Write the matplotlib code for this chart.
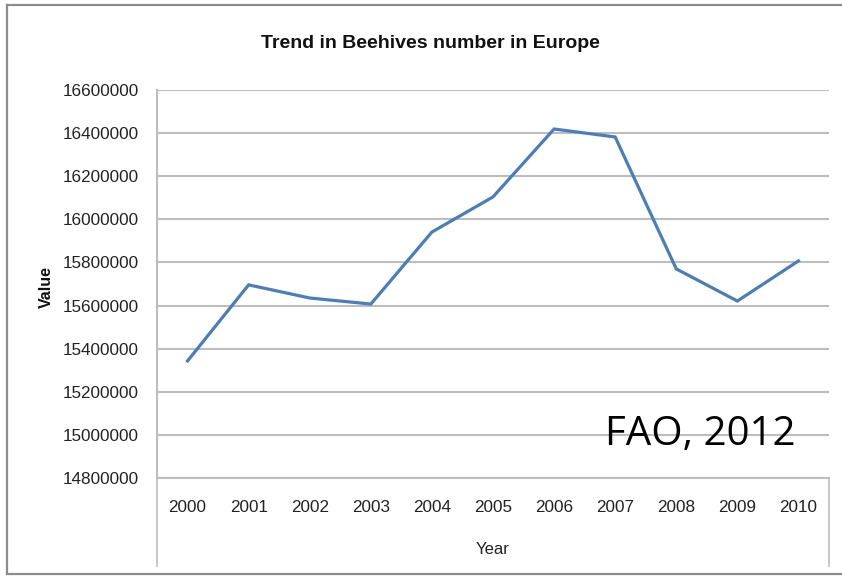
"""Line chart: trend in beehives number in Europe (FAO, 2012)."""

import matplotlib
matplotlib.use("Agg")
import matplotlib.pyplot as plt
from matplotlib.lines import Line2D

# Data
YEARS = ["2000", "2001", "2002", "2003", "2004", "2005",
         "2006", "2007", "2008", "2009", "2010"]
BEEHIVES = [15343000, 15696000, 15635000, 15607000, 15941000, 16104000,
            16419000, 16382000, 15770000, 15621000, 15807000]
Y_TICKS = [14800000, 15000000, 15200000, 15400000, 15600000, 15800000,
           16000000, 16200000, 16400000, 16600000]

LINE_COLOR = "#4a7ebb"
GRID_COLOR = "#bdbdbd"
FONT = ["Liberation Sans", "DejaVu Sans"]

W, H = 842, 576


def fx(px):
    return px / W


def fy(py):
    return 1 - py / H


fig = plt.figure(figsize=(W / 100, H / 100), dpi=100)

# Plot area (pixel coords)
left, right, top, bottom = 157, 829, 90, 478
ax = fig.add_axes([fx(left), fy(bottom), fx(right) - fx(left), fy(top) - fy(bottom)])

x = list(range(len(YEARS)))
ax.plot(x, BEEHIVES, color=LINE_COLOR, linewidth=2.3, solid_joinstyle="miter")

ax.set_xlim(-0.5, len(YEARS) - 0.5)
ax.set_ylim(Y_TICKS[0], Y_TICKS[-1])
ax.set_yticks(Y_TICKS)
ax.set_yticklabels([str(v) for v in Y_TICKS], family=FONT, fontsize=12.3, color="#222222")
ax.set_xticks(x)
ax.set_xticklabels(YEARS, family=FONT, fontsize=12.3, color="#222222")
ax.tick_params(axis="y", length=0, pad=13)
ax.tick_params(axis="x", length=0, pad=16)

ax.grid(True, axis="y", color=GRID_COLOR, linewidth=1.5)
ax.set_axisbelow(True)
for side in ["top", "right"]:
    ax.spines[side].set_visible(False)
for side in ["left", "bottom"]:
    ax.spines[side].set_color(GRID_COLOR)
    ax.spines[side].set_linewidth(1.5)

# Title and axis labels
fig.text(fx(430), fy(44), "Trend in Beehives number in Europe", family=FONT,
         fontsize=14, fontweight="bold", ha="center", va="center", color="#111111")
fig.text(fx(46), fy(287), "Value", family=FONT, fontsize=11.5, fontweight="bold",
         rotation=90, ha="center", va="center", color="#111111")
fig.text(fx(493), fy(550), "Year", family=FONT, fontsize=12,
         ha="center", va="center", color="#222222")

# Source annotation
fig.text(fx(700), fy(435), "FAO, 2012", family=["Open Sans", "DejaVu Sans"],
         fontsize=29, ha="center", va="center", color="black")

# Category axis box and outer chart frame
for xs, ys in [
    ([left, left], [bottom, 566]),
    ([right, right], [bottom, 566]),
]:
    fig.add_artist(Line2D([fx(v) for v in xs], [fy(v) for v in ys],
                          color=GRID_COLOR, linewidth=1.2))

for xs, ys in [
    ([7, 842], [5, 5]),
    ([7, 7], [5, 574]),
    ([7, 842], [574, 574]),
]:
    fig.add_artist(Line2D([fx(v) for v in xs], [fy(v) for v in ys],
                          color="#8c8c8c", linewidth=1.6))

fig.savefig("out.png", dpi=100)
